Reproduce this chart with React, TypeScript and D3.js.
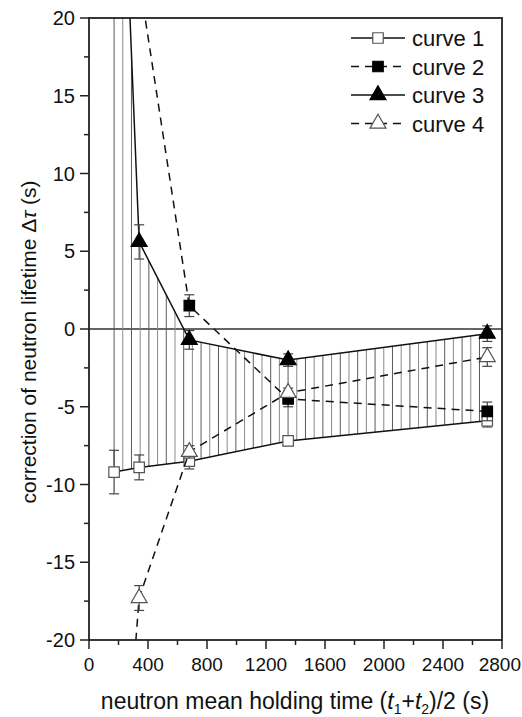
import React, { useRef, useEffect } from "react";
import { select, scaleLinear, line, symbol, symbolSquare, symbolTriangle, range } from "d3";

// holding times (s)
const holdTimes = [170, 340, 680, 1350, 2700];

const curve1 = [-9.2, -8.9, -8.5, -7.2, -5.9];
const curve1Err = [1.4, 0.8, 0.5, 0.3, 0.4];

const curve2X = [340, 680, 1350, 2700];
const curve2 = [22.5, 1.5, -4.5, -5.3];
const curve2Err = [0, 0.7, 0.5, 0.6];

const curve3 = [45, 5.6, -0.7, -2.0, -0.3];
const curve3Err = [0, 1.1, 0.6, 0.4, 0.5];

const curve4 = [-38, -17.3, -7.9, -4.1, -1.8];
const curve4Err = [0, 0.8, 0.4, 0.3, 0.6];

const xTicks = [0, 400, 800, 1200, 1600, 2000, 2400, 2800];
const yTicks = [-20, -15, -10, -5, 0, 5, 10, 15, 20];
const legendNames = ["curve 1", "curve 2", "curve 3", "curve 4"];

const W = 522;
const H = 717;
const margin = { top: 18, right: 20, bottom: 77, left: 89 };

const App = () => {
    const svgRef = useRef(null);

    useEffect(() => {
        const svg = select(svgRef.current);
        svg.selectAll("*").remove();

        const pw = W - margin.left - margin.right;
        const ph = H - margin.top - margin.bottom;

        const xScale = scaleLinear().domain([0, 2800]).range([margin.left, margin.left + pw]);
        const yScale = scaleLinear().domain([-20, 20]).range([margin.top + ph, margin.top]);

        svg.append("rect").attr("width", W).attr("height", H).attr("fill", "#fff");

        svg.append("clipPath").attr("id", "plotclip")
            .append("rect")
            .attr("x", margin.left).attr("y", margin.top)
            .attr("width", pw).attr("height", ph);

        const plot = svg.append("g").attr("clip-path", "url(#plotclip)");

        // zero line
        plot.append("line")
            .attr("x1", margin.left).attr("x2", margin.left + pw)
            .attr("y1", yScale(0)).attr("y2", yScale(0))
            .attr("stroke", "#333").attr("stroke-width", 1.3);

        // vertical hatching between curve 1 and curve 3
        const interp = (xs: number[], ys: number[], x: number) => {
            for (let i = 0; i < xs.length - 1; i++) {
                if (x >= xs[i] && x <= xs[i + 1]) {
                    const t = (x - xs[i]) / (xs[i + 1] - xs[i]);
                    return ys[i] + t * (ys[i + 1] - ys[i]);
                }
            }
            return ys[ys.length - 1];
        };
        const px0 = xScale(holdTimes[0]);
        const px1 = xScale(holdTimes[holdTimes.length - 1]);
        const hatchX = range(px0, px1 + 0.5, 8.7);
        plot.selectAll(".hatch")
            .data(hatchX)
            .enter()
            .append("line")
            .attr("class", "hatch")
            .attr("x1", (d) => d).attr("x2", (d) => d)
            .attr("y1", (d) => yScale(interp(holdTimes, curve1, xScale.invert(d))))
            .attr("y2", (d) => yScale(interp(holdTimes, curve3, xScale.invert(d))))
            .attr("stroke", (d, i) => (i % 2 ? "#8a8a8a" : "#5a5a5a"))
            .attr("stroke-width", 1);

        const series = [
            { xs: holdTimes, ys: curve1, err: curve1Err, dash: null, shape: symbolSquare, fill: "#fff", size: 110 },
            { xs: curve2X, ys: curve2, err: curve2Err, dash: "8,6", shape: symbolSquare, fill: "#000", size: 110 },
            { xs: holdTimes, ys: curve3, err: curve3Err, dash: null, shape: symbolTriangle, fill: "#000", size: 110 },
            { xs: holdTimes, ys: curve4, err: curve4Err, dash: "8,6", shape: symbolTriangle, fill: "#fff", size: 110 },
        ];

        series.forEach((s) => {
            const pts = s.xs.map((x, i) => [x, s.ys[i]] as [number, number]);
            const ln = line<[number, number]>()
                .x((d) => xScale(d[0]))
                .y((d) => yScale(d[1]));
            plot.append("path")
                .attr("d", ln(pts))
                .attr("fill", "none")
                .attr("stroke", "#111")
                .attr("stroke-width", 1.5)
                .attr("stroke-dasharray", s.dash);

            // error bars
            pts.forEach((p, i) => {
                const e = s.err[i];
                if (!e) return;
                const cx = xScale(p[0]);
                const g = plot.append("g").attr("stroke", "#444").attr("stroke-width", 1.2);
                g.append("line").attr("x1", cx).attr("x2", cx)
                    .attr("y1", yScale(p[1] - e)).attr("y2", yScale(p[1] + e));
                [p[1] - e, p[1] + e].forEach((v) => {
                    g.append("line").attr("x1", cx - 5).attr("x2", cx + 5)
                        .attr("y1", yScale(v)).attr("y2", yScale(v));
                });
            });

            // markers
            plot.selectAll(null)
                .data(pts)
                .enter()
                .append("path")
                .attr("d", symbol().type(s.shape).size(s.size)())
                .attr("transform", (d) => "translate(" + xScale(d[0]) + "," + yScale(d[1]) + ")")
                .attr("fill", s.fill)
                .attr("stroke", s.fill === "#fff" ? "#555" : "#000")
                .attr("stroke-width", 1.2);
        });

        // frame
        svg.append("rect")
            .attr("x", margin.left).attr("y", margin.top)
            .attr("width", pw).attr("height", ph)
            .attr("fill", "none").attr("stroke", "#222").attr("stroke-width", 1.8);

        // x ticks
        const font = "Liberation Sans, Arial, sans-serif";
        range(0, 2801, 200).forEach((v) => {
            const major = v % 400 === 0;
            svg.append("line")
                .attr("x1", xScale(v)).attr("x2", xScale(v))
                .attr("y1", yScale(-20)).attr("y2", yScale(-20) + (major ? 9 : 5))
                .attr("stroke", "#222").attr("stroke-width", 1.5);
        });
        xTicks.forEach((v, i) => {
            const last = i === xTicks.length - 1;
            svg.append("text")
                .attr("x", last ? W - 1 : xScale(v)).attr("y", 671)
                .attr("text-anchor", last ? "end" : "middle")
                .attr("font-family", font).attr("font-size", 19)
                .attr("fill", "#111")
                .text(v);
        });

        // y ticks
        range(-20, 20.01, 2.5).forEach((v) => {
            const major = v % 5 === 0;
            svg.append("line")
                .attr("x1", margin.left).attr("x2", margin.left - (major ? 9 : 5))
                .attr("y1", yScale(v)).attr("y2", yScale(v))
                .attr("stroke", "#222").attr("stroke-width", 1.5);
        });
        yTicks.forEach((v) => {
            svg.append("text")
                .attr("x", 75).attr("y", yScale(v) + 7)
                .attr("text-anchor", "end")
                .attr("font-family", font).attr("font-size", 20)
                .attr("fill", "#111")
                .text(v);
        });

        // axis titles
        const xt = svg.append("text")
            .attr("x", 295).attr("y", 709)
            .attr("text-anchor", "middle")
            .attr("font-family", font).attr("font-size", 23)
            .attr("fill", "#111");
        xt.append("tspan").text("neutron mean holding time (");
        xt.append("tspan").attr("font-style", "italic").text("t");
        xt.append("tspan").attr("font-size", 14).attr("dy", 5).text("1");
        xt.append("tspan").attr("dy", -5).text("+");
        xt.append("tspan").attr("font-style", "italic").text("t");
        xt.append("tspan").attr("font-size", 14).attr("dy", 5).text("2");
        xt.append("tspan").attr("dy", -5).text(")/2 (s)");

        const yt = svg.append("text")
            .attr("transform", "translate(36,342) rotate(-90)")
            .attr("text-anchor", "middle")
            .attr("font-family", font).attr("font-size", 21)
            .attr("fill", "#111");
        yt.append("tspan").text("correction of neutron lifetime Δ");
        yt.append("tspan").attr("font-style", "italic").text("τ");
        yt.append("tspan").text(" (s)");

        // legend
        const legend = svg.append("g");
        series.forEach((s, i) => {
            const ly = 38 + i * 28.5;
            legend.append("line")
                .attr("x1", 351).attr("x2", 405)
                .attr("y1", ly).attr("y2", ly)
                .attr("stroke", "#111").attr("stroke-width", 1.5)
                .attr("stroke-dasharray", s.dash);
            legend.append("path")
                .attr("d", symbol().type(s.shape).size(s.size)())
                .attr("transform", "translate(378," + ly + ")")
                .attr("fill", s.fill)
                .attr("stroke", s.fill === "#fff" ? "#555" : "#000")
                .attr("stroke-width", 1.2);
            legend.append("text")
                .attr("x", 412).attr("y", ly + 8)
                .attr("font-family", font).attr("font-size", 22)
                .attr("fill", "#111")
                .text(legendNames[i]);
        });
    }, []);

    return (
        <svg ref={svgRef} width={W} height={H} style={{ position: "absolute", left: 0, top: 0 }}></svg>
    );
};

export default App;
